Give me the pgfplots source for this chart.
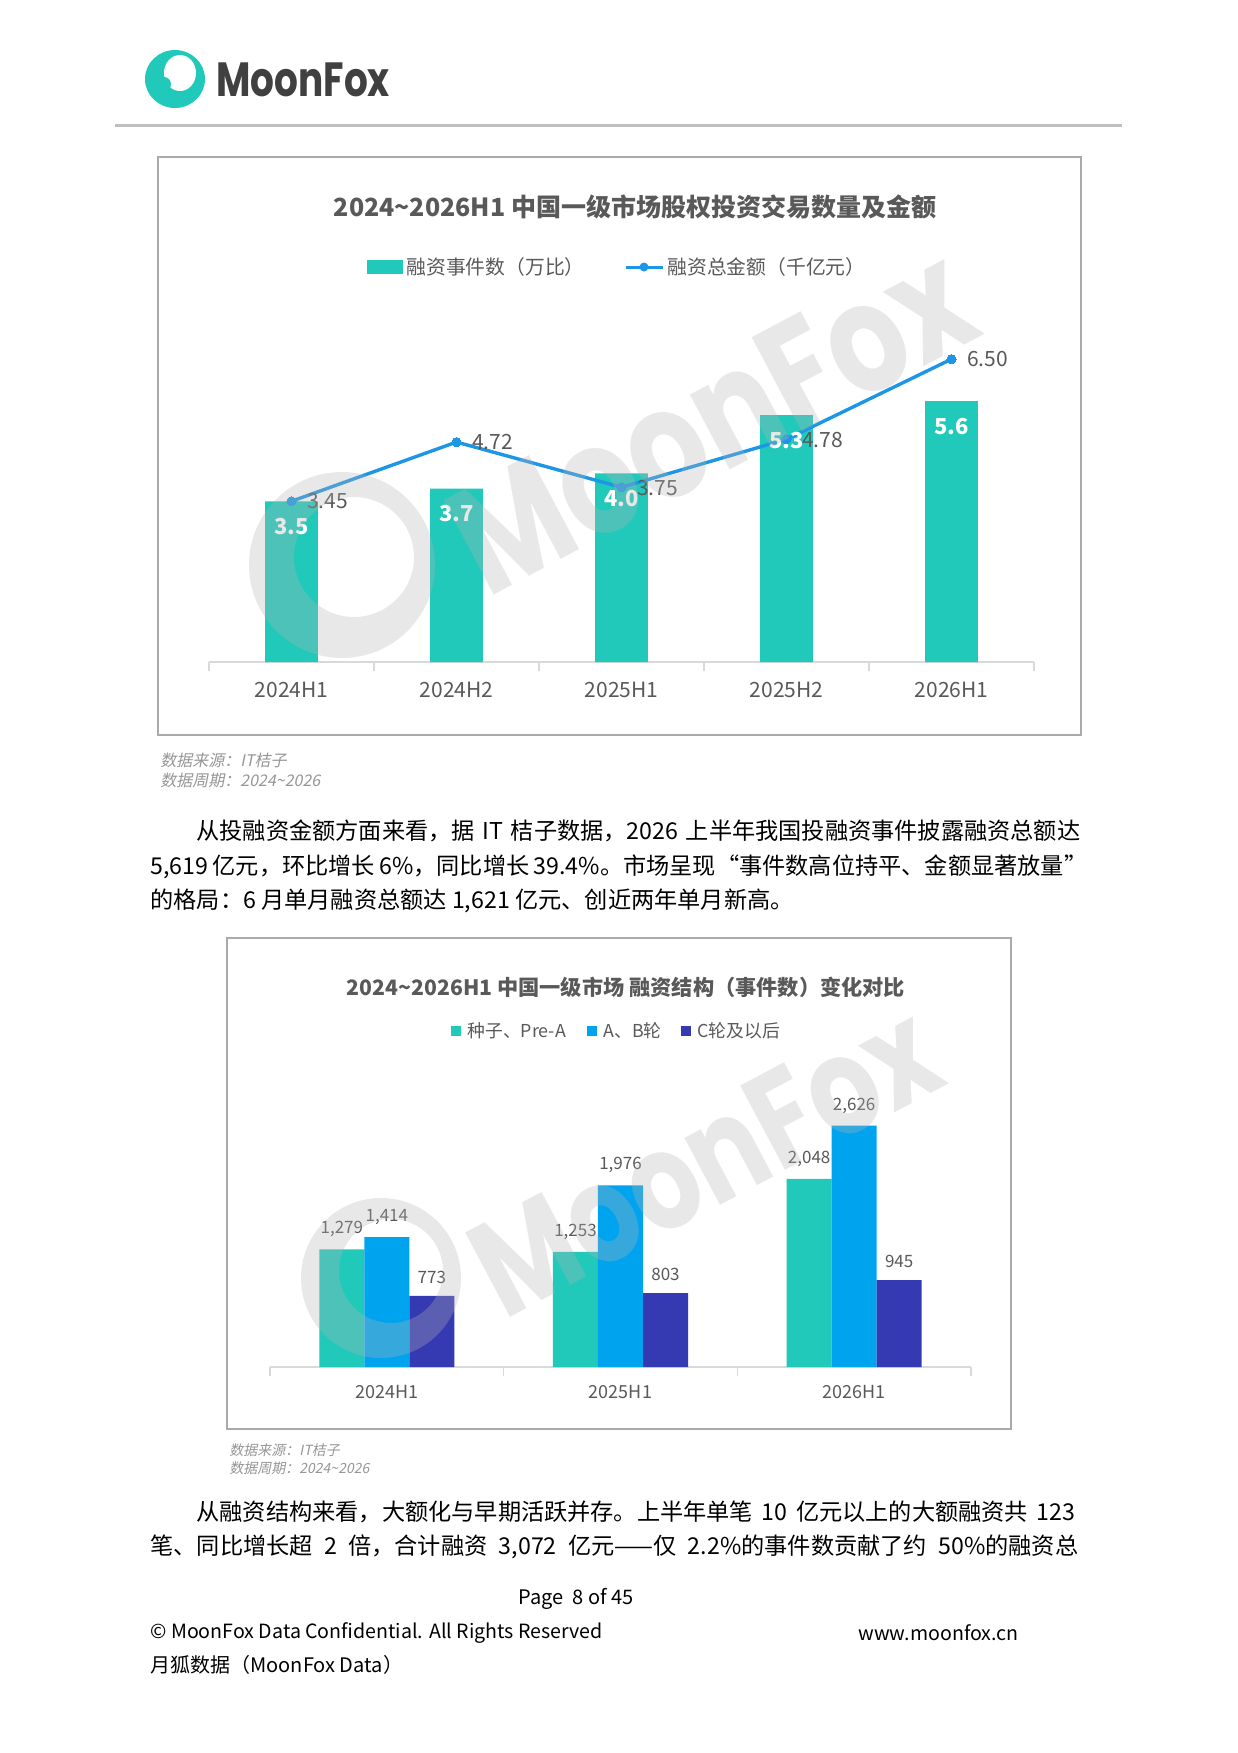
\documentclass[border=0pt]{standalone}
\usepackage{pgfplots}
\pgfplotsset{compat=1.18}
\usepackage{pgfplotstable}
\usepackage{fontspec}
\setmainfont{Noto Sans CJK SC}
\newfontfamily\logofont{Poppins}
\newfontfamily\srcfont[FakeSlant=0.2]{Noto Sans CJK SC}
\XeTeXlinebreaklocale "zh"
\XeTeXlinebreakskip = 0pt plus 1pt
\newcommand\fs[1]{\fontsize{#1}{#1}\selectfont}
\definecolor{barteal}{RGB}{32,201,186}
\definecolor{lineblue}{RGB}{30,150,230}
\definecolor{barblue}{RGB}{0,163,238}
\definecolor{barnavy}{RGB}{54,58,178}
\definecolor{txtgray}{RGB}{89,89,89}
\definecolor{srcgray}{RGB}{150,150,150}
\definecolor{axisgray}{RGB}{217,217,217}
\definecolor{framegray}{RGB}{170,170,170}
\definecolor{hdrline}{RGB}{191,191,191}
\definecolor{logogray}{RGB}{64,64,64}
\definecolor{wmgray}{RGB}{180,180,180}

\pgfplotstableread{
x bar barlab amt amtlab
0 3.45 3.5 3.45 3.45
1 3.72 3.7 4.72 4.72
2 4.05 4.0 3.75 3.75
3 5.30 5.3 4.78 4.78
4 5.60 5.6 6.50 6.50
}\tblone

\pgfplotstableread{
x seed ab c
0 1279 1414 773
1 1253 1976 803
2 2048 2626 945
}\tbltwo

\begin{document}
\begin{tikzpicture}[x=0.5pt,y=0.5pt]
\fill[white] (0,0) rectangle (1238,-1753);

% header
\fill[barteal] (175,-79) ellipse [x radius=30, y radius=29];
\fill[white] (180,-73) ellipse [x radius=16, y radius=18];
\fill[barteal] (164,-84) circle (7);
\node[anchor=west, inner sep=0pt, text=logogray, xscale=0.78] at (216,-80) {\logofont\bfseries\fs{24pt}MoonFox};
\draw[hdrline, line width=1.5pt] (115,-125) -- (1122,-125);

% chart 1 frame
\draw[framegray, line width=0.8pt] (158,-157) rectangle (1081,-735);
\node[text=txtgray, inner sep=0pt] at (635,-207) {\bfseries\fs{12.5pt}2024\textasciitilde2026H1 中国一级市场股权投资交易数量及金额};
\fill[barteal] (367,-260) rectangle (403,-274);
\node[anchor=west, inner sep=0pt, text=txtgray] at (406,-267) {\fs{9.9pt}融资事件数（万比）};
\draw[lineblue, line width=1.5pt] (626,-267) -- (663,-267);
\fill[lineblue] (644,-267) circle (4.5);
\node[anchor=west, inner sep=0pt, text=txtgray] at (667,-267) {\fs{9.9pt}融资总金额（千亿元）};

\begin{axis}[
  at={(104.5pt,-331pt)}, anchor=south west, scale only axis,
  width=412.5pt, height=163.1pt,
  xmin=-0.5, xmax=4.5, ymin=0, ymax=7,
  axis x line*=bottom, axis y line=none,
  x axis line style={draw=axisgray, line width=0.8pt},
  xtick={0,...,4}, xticklabels={2024H1,2024H2,2025H1,2025H2,2026H1},
  major tick length=0pt, minor tick length=4.5pt,
  minor xtick={-0.5,0.5,...,4.5},
  minor x tick style={draw=axisgray, line width=0.8pt},
  xtick align=outside,
  xticklabel style={anchor=center, yshift=-14pt, font=\fs{10.5pt}, text=txtgray},
  clip=false,
]
\addplot[ybar, bar shift=0pt, bar width=26.3pt, fill=barteal, draw=none,
  point meta=explicit symbolic, nodes near coords,
  every node near coord/.append style={font=\bfseries\fs{11pt}, text=white, inner sep=0pt, yshift=-17pt}]
  table[x=x, y=bar, meta=barlab]{\tblone};
\addplot[color=lineblue, line width=1.7pt, mark=*, mark size=2.3pt,
  mark options={solid, fill=lineblue, line width=0pt},
  point meta=explicit symbolic, nodes near coords,
  every node near coord/.append style={font=\fs{10.5pt}, text=txtgray, inner sep=0pt, xshift=18pt, yshift=-4pt}]
  table[x=x, y=amt, meta=amtlab]{\tblone};
\end{axis}

% watermark chart 1
\fill[wmgray, opacity=0.3, even odd rule] (342,-565) circle (93) (354,-557) circle (60);
\node[text=wmgray, text opacity=0.3, rotate=28, xscale=0.8, inner sep=0pt] at (712,-420) {\logofont\bfseries\fs{76pt}MoonFox};

% source 1
\node[anchor=west, inner sep=0pt, text=srcgray] at (160,-760) {\srcfont\fs{8pt}数据来源：IT桔子};
\node[anchor=west, inner sep=0pt, text=srcgray] at (160,-780) {\srcfont\fs{8pt}数据周期：2024\textasciitilde2026};

% paragraph 1
\node[anchor=west, inner sep=0pt] at (196,-831) {\fs{11.6pt}\hbox to 442pt{从投融资金额方面来看，据 IT 桔子数据，2026 上半年我国投融资事件披露融资总额达}};
\node[anchor=west, inner sep=0pt] at (150,-867) {\fs{11.6pt}\hbox to 468.5pt{5,619 亿元，环比增长 6\%，同比增长 39.4\%。市场呈现“事件数高位持平、金额显著放量”}};
\node[anchor=west, inner sep=0pt] at (150,-901) {\fs{11.6pt}的格局：6 月单月融资总额达 1,621 亿元、创近两年单月新高。};

% chart 2 frame
\draw[framegray, line width=0.8pt] (227,-938) rectangle (1011,-1429);
\node[text=txtgray, inner sep=0pt] at (626,-987) {\bfseries\fs{10.6pt}2024\textasciitilde2026H1 中国一级市场 融资结构（事件数）变化对比};
\fill[barteal] (451,-1026) rectangle (461,-1036);
\node[anchor=west, inner sep=0pt, text=txtgray] at (467,-1031) {\fs{8.9pt}种子、Pre-A};
\fill[barblue] (587,-1026) rectangle (597,-1036);
\node[anchor=west, inner sep=0pt, text=txtgray] at (603,-1031) {\fs{8.9pt}A、B轮};
\fill[barnavy] (681,-1026) rectangle (691,-1036);
\node[anchor=west, inner sep=0pt, text=txtgray] at (697,-1031) {\fs{8.9pt}C轮及以后};

\begin{axis}[
  at={(135pt,-683.5pt)}, anchor=south west, scale only axis,
  width=350.5pt, height=137.85pt,
  xmin=-0.5, xmax=2.5, ymin=0, ymax=3000,
  ybar=0pt, bar width=22.5pt,
  axis x line*=bottom, axis y line=none,
  x axis line style={draw=axisgray, line width=0.8pt},
  xtick={0,1,2}, xticklabels={2024H1,2025H1,2026H1},
  major tick length=0pt, minor tick length=4.5pt,
  minor xtick={-0.5,0.5,...,2.5},
  minor x tick style={draw=axisgray, line width=0.8pt},
  xtick align=outside,
  xticklabel style={anchor=center, yshift=-12.5pt, font=\fs{9pt}, text=txtgray},
  nodes near coords={\pgfmathprintnumber[assume math mode=true, 1000 sep={,}]{\pgfplotspointmeta}},
  every node near coord/.append style={font=\fs{8.5pt}, text=txtgray, inner sep=0pt, yshift=6pt},
  clip=false,
]
\addplot[fill=barteal, draw=none] table[x=x, y=seed]{\tbltwo};
\addplot[fill=barblue, draw=none] table[x=x, y=ab]{\tbltwo};
\addplot[fill=barnavy, draw=none] table[x=x, y=c]{\tbltwo};
\end{axis}

% watermark chart 2
\fill[wmgray, opacity=0.3, even odd rule] (381,-1278) circle (80) (391,-1271) circle (52);
\node[text=wmgray, text opacity=0.3, rotate=28, xscale=0.8, inner sep=0pt] at (705,-1160) {\logofont\bfseries\fs{68pt}MoonFox};

% source 2
\node[anchor=west, inner sep=0pt, text=srcgray] at (229,-1450) {\srcfont\fs{7pt}数据来源：IT桔子};
\node[anchor=west, inner sep=0pt, text=srcgray] at (229,-1468) {\srcfont\fs{7pt}数据周期：2024\textasciitilde2026};

% paragraph 2
\node[anchor=west, inner sep=0pt] at (196,-1512) {\fs{11.6pt}\hbox to 439.5pt{从融资结构来看，大额化与早期活跃并存。上半年单笔 10 亿元以上的大额融资共 123}};
\node[anchor=west, inner sep=0pt] at (150,-1547) {\fs{11.6pt}\hbox to 464pt{笔、同比增长超 2 倍，合计融资 3,072 亿元——仅 2.2\%的事件数贡献了约 50\%的融资总}};

% footer
\node[inner sep=0pt] at (576,-1599) {\fs{10pt}Page\ \ 8 of 45};
\node[anchor=west, inner sep=0pt] at (150,-1633) {\fs{9.8pt}© MoonFox Data Confidential. All Rights Reserved};
\node[anchor=west, inner sep=0pt] at (858,-1633) {\fs{9.8pt}www.moonfox.cn};
\node[anchor=west, inner sep=0pt] at (150,-1665) {\fs{10pt}月狐数据（MoonFox Data）};

\pgfresetboundingbox
\path[use as bounding box] (0,0) rectangle (1238,-1753);
\end{tikzpicture}
\end{document}
